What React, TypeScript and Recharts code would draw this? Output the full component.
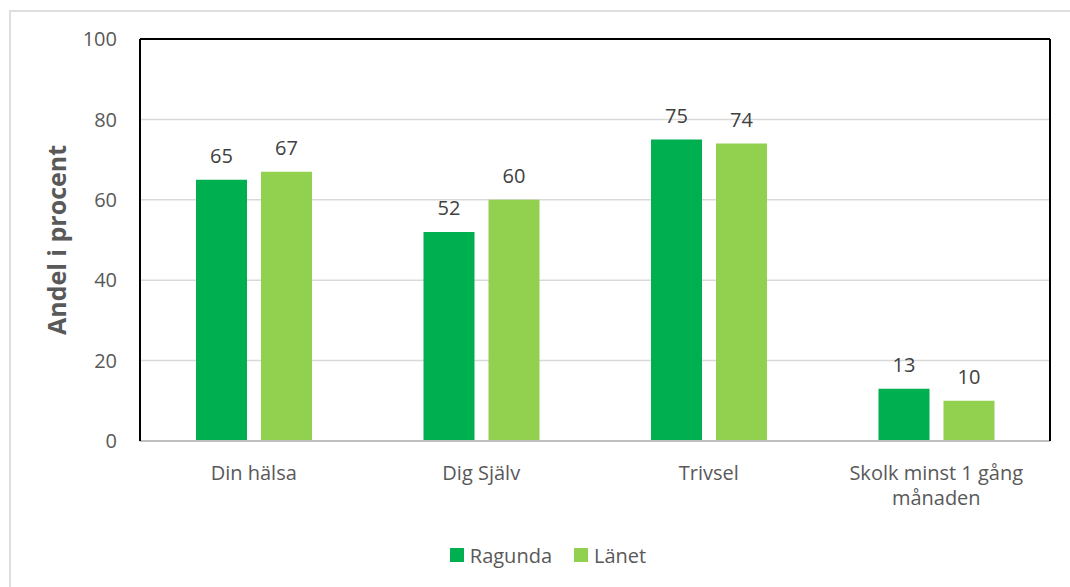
import { BarChart, Bar, XAxis, YAxis, CartesianGrid, Legend, LabelList, ReferenceLine, Text } from "recharts";

const CATEGORIES = ["Din hälsa", "Dig Själv", "Trivsel", "Skolk minst 1 gång månaden"];
const RAGUNDA = [65, 52, 75, 13];
const LANET = [67, 60, 74, 10];
const Y_TICKS = [0, 20, 40, 60, 80, 100];

const SERIES = [
  { key: "ragunda", name: "Ragunda", color: "#00B050" },
  { key: "lanet", name: "Länet", color: "#92D050" },
];

const data = CATEGORIES.map((kategori, i) => ({
  kategori,
  ragunda: RAGUNDA[i],
  lanet: LANET[i],
}));

const FONT = '"Open Sans", sans-serif';
const TICK_COLOR = "#595959";

function CategoryTick(props: any) {
  const { x, y, payload } = props;
  return (
    <Text
      x={x}
      y={y}
      width={200}
      textAnchor="middle"
      verticalAnchor="start"
      lineHeight={25}
      fontSize={20}
      fill={TICK_COLOR}
      fontFamily={FONT}
      style={{ fontSize: 20, fontFamily: FONT }}
    >
      {payload.value}
    </Text>
  );
}

function LegendContent() {
  return (
    <div
      style={{
        display: "flex",
        justifyContent: "center",
        alignItems: "center",
        height: 30,
        paddingLeft: 45,
        fontFamily: FONT,
        fontSize: 20,
        color: TICK_COLOR,
        gap: 22,
      }}
    >
      {SERIES.map((s) => (
        <span key={s.key} style={{ display: "flex", alignItems: "center", gap: 6 }}>
          <span style={{ width: 14, height: 14, background: s.color, display: "inline-block" }} />
          {s.name}
        </span>
      ))}
    </div>
  );
}

export default function App() {
  return (
    <div
      style={{
        position: "absolute",
        left: 0,
        top: 0,
        width: 1070,
        height: 587,
        background: "#fff",
        fontFamily: FONT,
      }}
    >
      <div
        style={{
          position: "absolute",
          left: 9,
          top: 10,
          right: 0,
          bottom: 0,
          borderTop: "2px solid #dedede",
          borderLeft: "2px solid #dedede",
        }}
      />
      <BarChart
        width={1070}
        height={587}
        data={data}
        margin={{ top: 39, right: 19, left: 0, bottom: 0 }}
        barSize={51}
        barGap={14}
      >
        <CartesianGrid vertical={false} stroke="#d9d9d9" strokeWidth={1.5} />
        <XAxis
          dataKey="kategori"
          height={116}
          axisLine={{ stroke: "#bfbfbf", strokeWidth: 2 }}
          tickLine={false}
          tickSize={0}
          tickMargin={25}
          tick={(p: any) => <CategoryTick {...p} />}
          interval={0}
        />
        <YAxis
          width={140}
          domain={[0, 100]}
          ticks={Y_TICKS}
          axisLine={{ stroke: "#000", strokeWidth: 2 }}
          tickLine={false}
          tickSize={0}
          tickMargin={23}
          tick={{ fontSize: 20, fill: TICK_COLOR, fontFamily: FONT }}
          label={{
            value: "Andel i procent",
            angle: -90,
            position: "insideLeft",
            offset: 57,
            textAnchor: "middle",
            style: { fontSize: 25, fontWeight: "bold", fill: TICK_COLOR, fontFamily: FONT, textAnchor: "middle" },
          }}
        />
        <YAxis
          yAxisId="right"
          orientation="right"
          width={1}
          domain={[0, 100]}
          ticks={Y_TICKS}
          axisLine={{ stroke: "#000", strokeWidth: 2 }}
          tickLine={false}
          tick={false}
        />
        <ReferenceLine y={100} stroke="#000" strokeWidth={2} />
        <Legend verticalAlign="bottom" content={<LegendContent />} wrapperStyle={{ top: 540 }} />
        {SERIES.map((s) => (
          <Bar key={s.key} dataKey={s.key} name={s.name} fill={s.color} isAnimationActive={false}>
            <LabelList
              dataKey={s.key}
              position="top"
              offset={17}
              fontSize={20}
              fill="#404040"
              fontFamily={FONT}
            />
          </Bar>
        ))}
      </BarChart>
    </div>
  );
}
